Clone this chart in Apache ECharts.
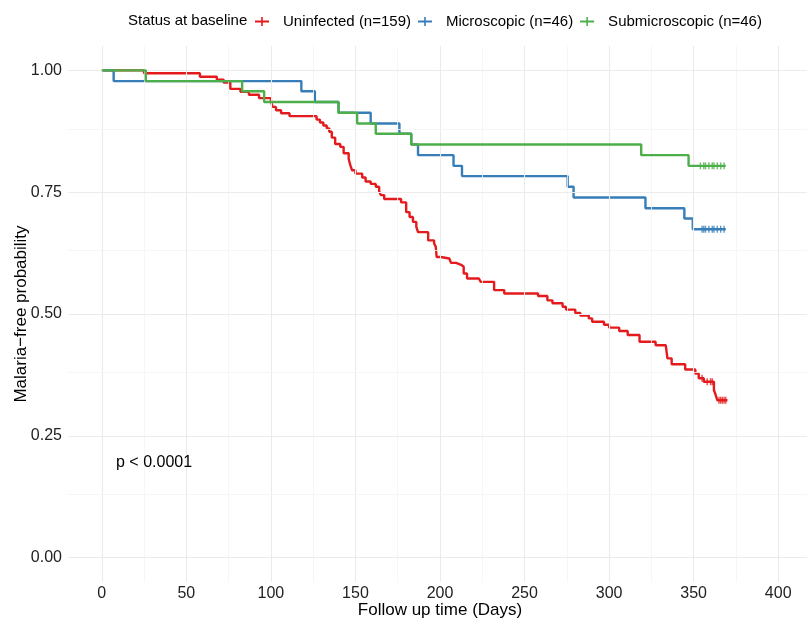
<!DOCTYPE html>
<html>
<head>
<meta charset="utf-8">
<script src="https://cdn.jsdelivr.net/npm/echarts@6/dist/echarts.min.js"></script>
<style>
  html, body { margin: 0; padding: 0; background: #fff; }
  #chart { width: 807px; height: 622px; }
</style>
</head>
<body>
<div id="chart"></div>
<script>
// Kaplan-Meier steps: [day, probability after the drop]
const uninfected = [
  [0, 1.000], [25, 0.994], [58, 0.987], [68, 0.981], [72, 0.975], [76, 0.962],
  [82, 0.956], [87, 0.950], [93, 0.943], [100, 0.937], [101, 0.925], [103, 0.918],
  [106, 0.912], [111, 0.906], [127, 0.899], [129, 0.893], [131, 0.887], [133, 0.881],
  [134.5, 0.874], [136, 0.862], [138, 0.849], [141, 0.843], [143, 0.830], [146, 0.818],
  [147, 0.805], [148, 0.795], [150, 0.788], [154, 0.780], [156, 0.772], [159, 0.767],
  [162, 0.761], [164, 0.752], [165, 0.744], [167, 0.736], [177, 0.729], [180, 0.709],
  [182, 0.699], [184, 0.689], [186, 0.679], [187, 0.668], [193, 0.651], [196.5, 0.645],
  [197.5, 0.638], [198, 0.617], [200.5, 0.614], [205.5, 0.610], [206.5, 0.605],
  [209.5, 0.601], [212.5, 0.597], [214, 0.583], [216, 0.573], [223, 0.569], [224, 0.566],
  [232, 0.549], [238, 0.542], [258, 0.537], [263.5, 0.528], [266.5, 0.522], [272.5, 0.515],
  [274.5, 0.509], [280, 0.502], [283, 0.497], [288, 0.491], [290, 0.484], [297, 0.478],
  [300, 0.472], [306, 0.465], [311, 0.457], [318, 0.443], [327.5, 0.436], [333.5, 0.432],
  [334.5, 0.409], [337, 0.397], [345, 0.386], [351, 0.378], [353, 0.368], [356, 0.361],
  [362, 0.344], [363, 0.334], [364, 0.323], [370, 0.323]
];
const microscopic = [
  [0, 1.000], [7, 0.978], [118, 0.957], [126, 0.935], [140, 0.913], [159, 0.891],
  [176, 0.870], [183, 0.848], [187, 0.826], [208, 0.804], [213, 0.783], [275.5, 0.761],
  [279, 0.739], [321.5, 0.717], [344.5, 0.696], [349.5, 0.674], [369, 0.674]
];
const submicroscopic = [
  [0, 1.000], [26, 0.978], [83, 0.957], [96, 0.935], [140, 0.913], [151, 0.891],
  [162, 0.870], [183, 0.848], [319, 0.826], [347, 0.804], [369, 0.804]
];
// censored observations
const censUninfected = [
  [355, 0.368], [358, 0.361], [360, 0.361], [361, 0.361],
  [365, 0.323], [366, 0.323], [367, 0.323], [368, 0.323], [369, 0.323]
];
const censMicroscopic = [
  [355, 0.674], [356, 0.674], [357, 0.674], [359, 0.674], [361, 0.674],
  [362, 0.674], [364, 0.674], [366, 0.674], [368, 0.674]
];
const censSubmicroscopic = [
  [354, 0.804], [356, 0.804], [357, 0.804], [359, 0.804], [361, 0.804],
  [362, 0.804], [364, 0.804], [366, 0.804], [368, 0.804]
];

const xTicks = [0, 50, 100, 150, 200, 250, 300, 350, 400];
const xMinor = [25, 75, 125, 175, 225, 275, 325, 375];
const yTicks = [0, 0.25, 0.5, 0.75, 1];
const yMinor = [0.125, 0.375, 0.625, 0.875];

const names = ['Uninfected (n=159)', 'Microscopic (n=46)', 'Submicroscopic (n=46)'];
const colors = ['#E41A1C', '#377EB8', '#4DAF4A'];
const font = '"Liberation Sans", Arial, sans-serif';
const plusIcon = 'path://M0,4H14V6H0Z M6.2,0.5H7.8V9.5H6.2Z';

const chart = echarts.init(document.getElementById('chart'), null, { renderer: 'canvas' });

function gridLines() {
  const major = { color: '#ebebeb', width: 1.1, type: 'solid' };
  const minor = { color: '#f4f4f4', width: 0.8, type: 'solid' };
  const data = [];
  xTicks.forEach(v => data.push({ xAxis: v, lineStyle: major }));
  xMinor.forEach(v => data.push({ xAxis: v, lineStyle: minor }));
  yTicks.forEach(v => data.push({ yAxis: v, lineStyle: major }));
  yMinor.forEach(v => data.push({ yAxis: v, lineStyle: minor }));
  return data;
}

function curve(i, data) {
  return {
    name: names[i], type: 'line', step: 'end', data: data,
    showSymbol: false, symbol: 'none', z: 3 + i,
    lineStyle: { color: colors[i], width: 2.4 },
    itemStyle: { color: colors[i] }
  };
}

function censor(i, data) {
  return {
    name: names[i], type: 'scatter', data: data, z: 3 + i,
    symbol: 'rect', symbolSize: [1.4, 7],
    itemStyle: { color: colors[i] }
  };
}

chart.setOption({
  animation: false,
  textStyle: { fontFamily: font },
  grid: { left: 68, top: 46, width: 744, height: 536, containLabel: false, outerBoundsMode: 'none' },
  legend: {
    data: names, left: 255, top: 14, padding: 0, itemWidth: 14, itemHeight: 10, itemGap: 7,
    icon: plusIcon,
    textStyle: { fontFamily: font, fontSize: 15, color: '#000', padding: [0, 0, 0, 9] }
  },
  graphic: [
    { type: 'text', x: 128, y: 21, z: 100,
      style: { text: 'Status at baseline', font: '15px ' + font, fill: '#000', verticalAlign: 'middle' } },
    { type: 'text', x: 116, y: 463, z: 100,
      style: { text: 'p < 0.0001', font: '16px ' + font, fill: '#000', verticalAlign: 'middle' } }
  ],
  xAxis: {
    type: 'value', min: -20, max: 420,
    name: 'Follow up time (Days)', nameLocation: 'middle', nameGap: 20, nameMoveOverlap: false,
    nameTextStyle: { fontSize: 17, color: '#000', verticalAlign: 'top' },
    axisLine: { show: false },
    axisTick: { show: true, customValues: xTicks, length: 3, lineStyle: { color: '#333' } },
    axisLabel: { customValues: xTicks, fontSize: 16, color: '#222', margin: 4 },
    splitLine: { show: false }
  },
  yAxis: {
    type: 'value', min: -0.05, max: 1.05,
    name: 'Malaria\u2212free probability', nameLocation: 'middle', nameGap: 38, nameRotate: 90,
    nameMoveOverlap: false,
    nameTextStyle: { fontSize: 17, color: '#000' },
    axisLine: { show: false },
    axisTick: { show: true, customValues: yTicks, length: 3, lineStyle: { color: '#333' } },
    axisLabel: { customValues: yTicks, fontSize: 16, color: '#222', margin: 6,
      formatter: v => v.toFixed(2) },
    splitLine: { show: false }
  },
  series: [
    {
      type: 'line', data: [], z: 1, silent: true,
      markLine: { silent: true, symbol: 'none', label: { show: false }, data: gridLines() }
    },
    curve(0, uninfected), curve(1, microscopic), curve(2, submicroscopic),
    censor(0, censUninfected), censor(1, censMicroscopic), censor(2, censSubmicroscopic)
  ]
});
</script>
</body>
</html>
